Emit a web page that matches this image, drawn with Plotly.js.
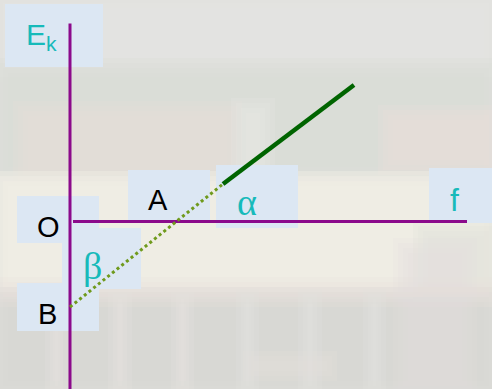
<!DOCTYPE html>
<html>
<head>
<meta charset="utf-8">
<script src="https://cdn.plot.ly/plotly-3.0.1.min.js"></script>
<style>html,body{margin:0;padding:0;background:#dfdfdc;}#chart{width:492px;height:389px;}</style>
</head>
<body>
<div id="chart"></div>
<script>
// ---- data (frequency f, kinetic energy Ek; arbitrary units) ----
const fMeasured = [15.3, 28.4];      // measured photo-electron line (solid)
const ekMeasured = [3.75, 13.65];
const fExtrap = [0, 15.3];           // extrapolation back to Ek axis (dotted)
const ekExtrap = [-8.55, 3.75];
const fAxisLine = [0.3, 39.7];       // drawn f axis
const ekAxisLine = [19.8, -16.8];    // drawn Ek axis

// label texts
const labelTexts = ['E<sub>k</sub>', 'O', 'A', 'α', 'f', 'β', 'B'];

// ---- layout helpers (placement / style only) ----
const labelPos = [[-2.9, 18.5], [-2.2, -0.55], [8.8, 2.15], [17.7, 2.0], [38.4, 2.15], [2.2, -4.4], [-2.3, -9.2]];
const labelColor = ['#17baba', '#000000', '#000000', '#17baba', '#17baba', '#17baba', '#000000'];
const labelFont = ['Liberation Sans', 'Liberation Sans', 'Liberation Sans', 'Liberation Serif', 'Liberation Sans', 'Liberation Serif', 'Liberation Sans'];
const labelSize = [30, 29, 29, 38, 32, 38, 29];
const boxes = [[-6.5, 3.3, 21.75, 15.45], [-5.3, 2.9, 2.55, -2.15], [-0.8, 7.1, -0.65, -6.75],
  [-5.3, 2.9, -6.15, -10.95], [5.8, 14.0, 5.15, 0.0], [14.6, 22.8, 5.65, -0.65], [35.9, 42.3, 5.35, -0.15]];

// blurred photo background approximated by soft patches (paper px: x0,x1,y0,y1,colour,opacity)
const bg = [
  [0, 492, 0, 75, '#e4e4e1', 0.9],
  [0, 492, 65, 175, '#dadbd6', 0.7],
  [20, 235, 108, 178, '#e6ddd7', 0.6],
  [238, 268, 105, 185, '#ebebe4', 0.5],
  [385, 492, 112, 168, '#e8e0db', 0.6],
  [0, 492, 178, 292, '#f2eee5', 0.95],
  [420, 492, 228, 300, '#e3e1db', 0.6],
  [0, 492, 294, 389, '#d8d7d3', 0.9],
  [0, 492, 284, 300, '#e7e2db', 0.5],
  [52, 61, 296, 389, '#e4e3df', 0.6],
  [115, 125, 296, 389, '#e4e3df', 0.6],
  [178, 187, 296, 389, '#e4e3df', 0.6],
  [243, 252, 296, 389, '#e3e2de', 0.6],
  [305, 315, 296, 389, '#e3e2de', 0.6],
  [370, 379, 296, 389, '#e3e2de', 0.6],
  [250, 330, 358, 374, '#e3e2de', 0.5],
  [400, 470, 245, 389, '#e1e0dc', 0.4]
];

const W = 492, H = 389;
const shapes = [];
// each patch drawn as a few nested, faint rectangles to mimic the blur of the photo
const blurSteps = [-8, -3, 2, 7];
bg.forEach(b => blurSteps.forEach(d => shapes.push({type: 'rect', xref: 'paper', yref: 'paper',
  x0: (b[0] - d) / W, x1: (b[1] + d) / W, y0: 1 - (b[3] + d) / H, y1: 1 - (b[2] - d) / H,
  fillcolor: b[4], opacity: b[5] / 2.2, line: {width: 0}, layer: 'below'})));
boxes.forEach(b => shapes.push({type: 'rect', xref: 'x', yref: 'y', x0: b[0], x1: b[1], y0: b[3], y1: b[2],
  fillcolor: '#dce7f3', line: {width: 0}, layer: 'below'}));

const traces = [
  {x: fAxisLine, y: [0, 0], mode: 'lines', line: {color: '#8b0a8b', width: 3}, hoverinfo: 'skip'},
  {x: [0, 0], y: ekAxisLine, mode: 'lines', line: {color: '#8b0a8b', width: 3}, hoverinfo: 'skip'},
  {x: fExtrap, y: ekExtrap, mode: 'lines', line: {color: '#6f9a1c', width: 3, dash: 'dot'}, hoverinfo: 'skip'},
  {x: fMeasured, y: ekMeasured, mode: 'lines', line: {color: '#006400', width: 4.5}, hoverinfo: 'skip'}
];

const annotations = labelTexts.map((t, i) => ({x: labelPos[i][0], y: labelPos[i][1], xref: 'x', yref: 'y',
  text: t, showarrow: false, xanchor: 'center', yanchor: 'middle',
  font: {family: labelFont[i], size: labelSize[i], color: labelColor[i]}}));

const layout = {
  width: W, height: H, margin: {l: 0, r: 0, t: 0, b: 0, pad: 0},
  paper_bgcolor: '#dfdfdc', plot_bgcolor: 'rgba(0,0,0,0)', showlegend: false,
  xaxis: {range: [-7.0, 42.2], visible: false, fixedrange: true},
  yaxis: {range: [-16.75, 22.15], visible: false, fixedrange: true},
  shapes: shapes, annotations: annotations
};
Plotly.newPlot('chart', traces, layout, {staticPlot: true, displayModeBar: false});
</script>
</body>
</html>
